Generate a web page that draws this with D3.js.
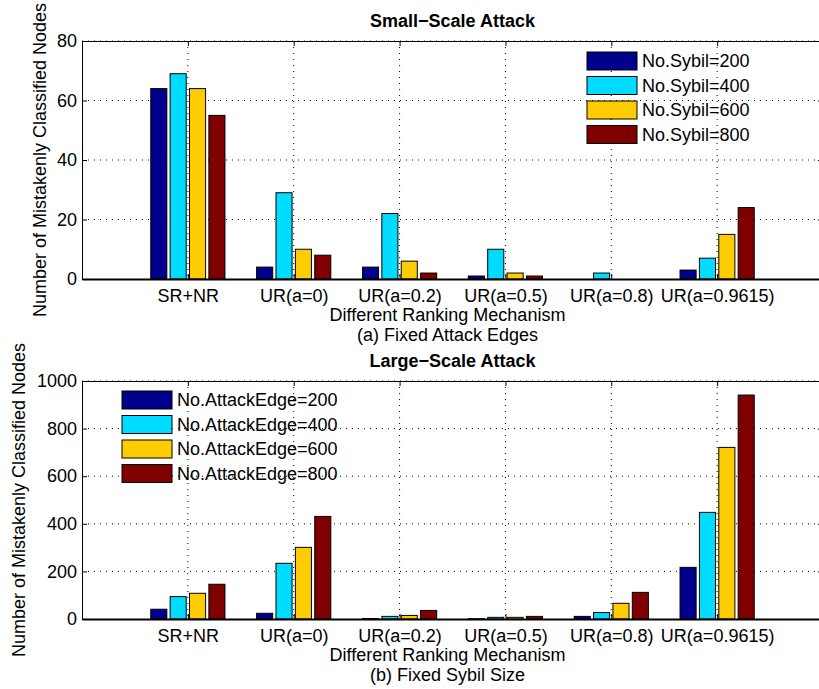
<!DOCTYPE html>
<html>
<head>
<meta charset="utf-8">
<script src="https://cdn.jsdelivr.net/npm/d3@7"></script>
<style>
  body { margin: 0; background: #fff; }
  svg text { font-family: "Liberation Sans", Arial, sans-serif; fill: #000; }
</style>
</head>
<body>
<div id="chart"></div>
<script>
// categories shared by both panels
const categories = ["SR+NR", "UR(a=0)", "UR(a=0.2)", "UR(a=0.5)", "UR(a=0.8)", "UR(a=0.9615)"]

// (a) small-scale attack, fixed attack edges
const smallSeries = ["No.Sybil=200", "No.Sybil=400", "No.Sybil=600", "No.Sybil=800"]
const small200 = [64, 4, 4, 1, 0, 3]
const small400 = [69, 29, 22, 10, 2, 7]
const small600 = [64, 10, 6, 2, 0, 15]
const small800 = [55, 8, 2, 1, 0, 24]
const smallTicks = [0, 20, 40, 60, 80]

// (b) large-scale attack, fixed sybil size
const largeSeries = ["No.AttackEdge=200", "No.AttackEdge=400", "No.AttackEdge=600", "No.AttackEdge=800"]
const large200 = [41, 24, 2, 1, 11, 217]
const large400 = [94, 234, 11, 7, 27, 448]
const large600 = [108, 301, 15, 7, 66, 721]
const large800 = [146, 431, 36, 11, 112, 941]
const largeTicks = [0, 200, 400, 600, 800, 1000]

const colors = ["#00008c", "#00dcff", "#ffcc00", "#800000"]

const width = 819
const height = 689
const svg = d3.select("#chart").append("svg")
  .attr("width", width)
  .attr("height", height)

// x runs 0..7, categories sit at 1..6
const x = d3.scaleLinear().domain([0, 7]).range([82, 823])

function panel(opts) {
  const y = d3.scaleLinear().domain([0, opts.ticks[opts.ticks.length - 1]]).range([opts.bottom, opts.top])
  const g = svg.append("g")
  const rows = categories.map((c, i) => ({cat: c, i: i + 1, vals: opts.values.map(v => v[i])}))
  const sub = d3.scaleBand().domain(d3.range(opts.series.length))
    .range([-0.366, 0.366]).paddingInner(0.17).paddingOuter(0.085)

  // dotted grid
  g.append("g").selectAll("line").data(opts.ticks.slice(1)).join("line")
    .attr("x1", x(0)).attr("x2", x(7))
    .attr("y1", d => y(d)).attr("y2", d => y(d))
    .attr("stroke", "#000").attr("stroke-dasharray", "1,5")
  g.append("g").selectAll("line").data(d3.range(1, 7)).join("line")
    .attr("x1", d => x(d)).attr("x2", d => x(d))
    .attr("y1", opts.top).attr("y2", opts.bottom)
    .attr("stroke", "#000").attr("stroke-dasharray", "1,5")

  // bars
  const grp = g.append("g").selectAll("g").data(rows).join("g")
  grp.selectAll("rect").data(d => d.vals.map((v, k) => ({v: v, k: k, i: d.i}))).join("rect")
    .attr("x", d => x(d.i + sub(d.k)))
    .attr("width", x(sub.bandwidth()) - x(0))
    .attr("y", d => y(d.v))
    .attr("height", d => y(0) - y(d.v))
    .attr("fill", d => colors[d.k])
    .attr("stroke", "#000").attr("stroke-width", 1)

  // axes, ticks point inward
  const left = d3.axisLeft(y).tickValues(opts.ticks).tickSizeInner(-5).tickSizeOuter(0)
    .tickPadding(5).tickFormat(d3.format("d"))
  const la = g.append("g").attr("transform", `translate(${x(0)},0)`).call(left)
  la.selectAll("text").style("font-size", "18px")
  const right = d3.axisRight(y).tickValues(opts.ticks).tickSizeInner(-5).tickSizeOuter(0).tickFormat("")
  g.append("g").attr("transform", `translate(${x(7)},0)`).call(right)

  const bottomAx = d3.axisBottom(x).tickValues(d3.range(1, 7)).tickSizeInner(-5).tickSizeOuter(0)
    .tickPadding(10).tickFormat(d => categories[d - 1])
  const ba = g.append("g").attr("transform", `translate(0,${opts.bottom})`).call(bottomAx)
  ba.selectAll("text").style("font-size", "18px")
  ba.select(".domain").attr("stroke-width", 2)
  const topAx = d3.axisTop(x).tickValues(d3.range(1, 7)).tickSizeInner(-5).tickSizeOuter(0).tickFormat("")
  g.append("g").attr("transform", `translate(0,${opts.top})`).call(topAx)
  g.selectAll(".domain, .tick line").attr("stroke", "#000")

  // titles and labels
  const cx = (x(0) + x(7)) / 2
  g.append("text").attr("x", cx).attr("y", opts.top - 14)
    .attr("text-anchor", "middle").style("font-size", "18px").style("font-weight", "bold")
    .text(opts.title)
  g.append("text").attr("x", cx - 5).attr("y", opts.bottom + 41.5)
    .attr("text-anchor", "middle").style("font-size", "18px").text("Different Ranking Mechanism")
  g.append("text").attr("x", cx - 5).attr("y", opts.bottom + 62)
    .attr("text-anchor", "middle").style("font-size", "18px").text(opts.caption)
  g.append("text")
    .attr("transform", `translate(${opts.ylabelX},${(opts.top + opts.bottom) / 2}) rotate(-90)`)
    .attr("text-anchor", "middle").attr("dy", "0.35em").style("font-size", "18px")
    .text("Number of Mistakenly Classified Nodes")

  // legend, no box
  const leg = g.append("g").selectAll("g").data(opts.series).join("g")
    .attr("transform", (d, i) => `translate(${opts.legX},${opts.legY + i * 24.5})`)
  leg.append("rect").attr("x", 0).attr("y", -9).attr("width", 50).attr("height", 18)
    .attr("fill", (d, i) => colors[i]).attr("stroke", "#000")
  leg.append("text").attr("x", 55).attr("dy", "0.35em").style("font-size", "18px").text(d => d)
}

panel({
  top: 41, bottom: 279, ticks: smallTicks,
  series: smallSeries, values: [small200, small400, small600, small800],
  title: "Small\u2212Scale Attack", caption: "(a) Fixed Attack Edges",
  ylabelX: 40, legX: 587, legY: 61
})

panel({
  top: 381, bottom: 619, ticks: largeTicks,
  series: largeSeries, values: [large200, large400, large600, large800],
  title: "Large\u2212Scale Attack", caption: "(b) Fixed Sybil Size",
  ylabelX: 19, legX: 122, legY: 400
})
</script>
</body>
</html>
